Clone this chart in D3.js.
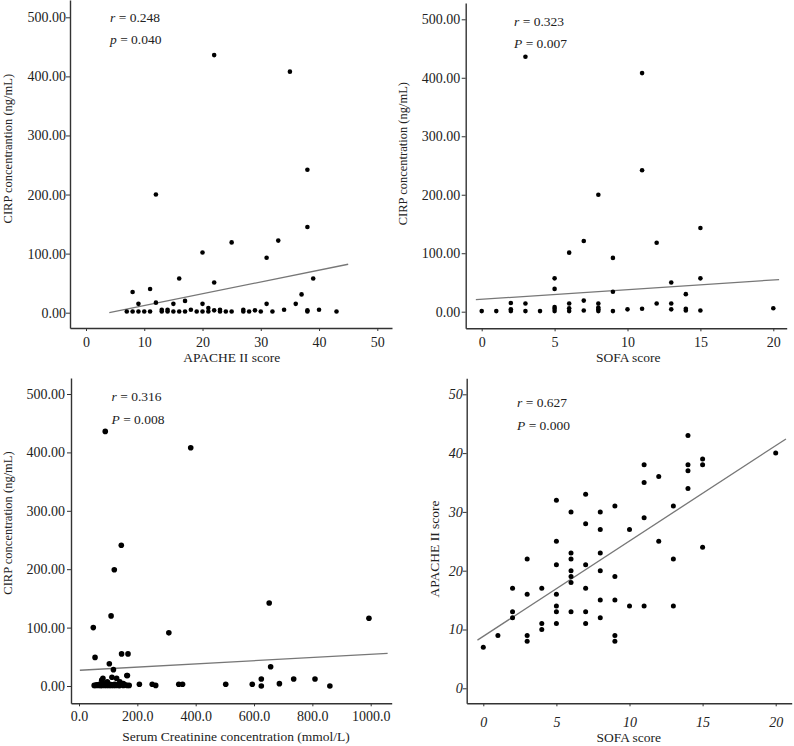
<!DOCTYPE html>
<html><head><meta charset="utf-8">
<script src="https://cdn.jsdelivr.net/npm/d3@7"></script>
<style>body{margin:0;background:#fff}svg{display:block}</style>
</head><body>
<svg id="c" width="794" height="746"></svg>
<script>
// ---------------- data ----------------
// Panel A: APACHE II score vs CIRP
const apacheScoreA = [22,35,12,38,38,33,25,20,31,39,16,22,8,11,37,9,12,15,17,20,31,36,
  7,8,9,10,11,13,13,14,14,15,16,17,18,19,20,21,21,22,23,23,24,25,27,27,28,29,30,32,34,38,38,40,43];
const cirpA = [436,408,200,242,145,122,119,102,93,58,58,51,35,40,31,15,17,15,20,15,15,15,
  2,2,2,2,2,2,5,2,5,2,2,2,5,2,2,2,8,4,2,5,2,2,2,5,2,4,2,2,5,2,4,5,2];
const fitAX = [4, 45], fitAY = [0, 82];

// Panel B: SOFA score vs CIRP
const sofaScoreB = [3,11,11,8,15,7,12,6,9,5,15,13,5,9,14,7,2,3,6,8,12,13,5,8,
  0,1,2,2,3,4,5,5,6,6,7,8,8,9,10,11,13,14,14,15,20];
const cirpB = [436,408,242,200,143,121,118,101,92,57,57,50,39,34,30,19,15,14,14,14,14,14,8,7,
  1,1,1,4,1,1,1,5,1,6,2,1,4,1,4,5,4,2,5,2,6];
const fitBX = [-0.4, 20.4], fitBY = [20.5, 55];

// Panel C: Serum creatinine vs CIRP
const creatinineC = [90,383,145,121,110,49,308,652,994,55,146,168,104,118,166,657,625,736,809,687,594,503,625,860,342,355,251,263,207,
  82,113,129,164,
  52,57,61,66,70,74,78,78,83,87,91,95,97,99,103,106,110,114,118,122,126,131,136,140,140,146,152,152,158,165,172];
const cirpC = [436,408,241,199,120,100,91,142,116,49,55,55,38,28,18,33,12,12,12,4,3,3,0,0,3,3,3,1,3,
  13,15,13,18,
  1,1,2,1,3,1,1,10,2,1,4,1,7,2,1,3,1,2,1,3,1,2,1,1,7,3,1,4,2,1,1];
const fitCX = [3, 1058], fitCY = [27, 56];

// Panel D: SOFA score vs APACHE II score
const sofaScoreD = [0,1,2,2,2,3,3,3,3,4,4,4,5,5,5,5,5,5,5,6,6,6,6,6,6,6,7,7,7,7,7,7,8,8,8,8,8,8,9,9,9,9,9,10,10,11,11,11,11,12,12,13,13,13,14,14,14,14,15,15,15,20];
const apacheScoreD = [7,9,12,13,17,8,9,16,22,10,11,17,11,13,14,16,21,25,32,13,18,19,20,22,23,30,11,13,17,21,28,33,12,15,20,23,27,30,8,9,15,19,31,14,27,14,29,35,38,25,36,14,22,31,34,37,38,43,24,38,39,40];
const fitDX = [-0.4, 20.7], fitDY = [8.2, 42.4];

// tick labels
const apacheTicks = [0,10,20,30,40,50];
const sofaTicks = [0,5,10,15,20];
const creatinineTicks = [0,200,400,600,800,1000];
const cirpTicks = [0,100,200,300,400,500];
const apacheYTicks = [0,10,20,30,40,50];

const statsA = ["r","0.248","p","0.040"];
const statsB = ["r","0.323","P","0.007"];
const statsC = ["r","0.316","P","0.008"];
const statsD = ["r","0.627","P","0.000"];

// ---------------- drawing ----------------
const FONT = "'Liberation Serif','Times New Roman',serif";
const INK = "#222";
const svg = d3.select("#c");

function panel(o){
  const g = svg.append("g");
  const x0 = d3.scaleLinear().domain(o.xA).range(o.xP);
  const y0 = d3.scaleLinear().domain(o.yA).range(o.yP);
  const x = d3.scaleLinear().domain([x0.invert(o.box.l), x0.invert(o.box.r)]).range([o.box.l, o.box.r]);
  const y = d3.scaleLinear().domain([y0.invert(o.box.b), y0.invert(o.box.t)]).range([o.box.b, o.box.t]);

  const fs = o.italic ? "italic" : "normal";
  const ya = g.append("g").attr("transform",`translate(${o.box.l},0)`)
    .call(d3.axisLeft(y).tickValues(o.yTicks).tickFormat(o.yFmt).tickSize(4).tickSizeOuter(0).tickPadding(o.yPad));
  const xa = g.append("g").attr("transform",`translate(0,${o.box.b})`)
    .call(d3.axisBottom(x).tickValues(o.xTicks).tickFormat(o.xFmt).tickSize(3).tickSizeOuter(0).tickPadding(o.xPad));
  [ya,xa].forEach(a=>{
    a.select(".domain").attr("stroke","#333").attr("stroke-width",1.4);
    a.selectAll(".tick line").attr("stroke","#333").attr("stroke-width",1);
    a.selectAll(".tick text").attr("font-family",FONT).attr("font-size",14).attr("fill",INK).attr("font-style",fs);
  });

  g.append("line")
    .attr("x1",x(o.fx[0])).attr("y1",y(o.fy[0]))
    .attr("x2",x(o.fx[1])).attr("y2",y(o.fy[1]))
    .attr("stroke","#777").attr("stroke-width",1.3);

  g.append("g").selectAll("circle").data(o.xs.map((v,i)=>[v,o.ys[i]])).join("circle")
    .attr("cx",d=>x(d[0])).attr("cy",d=>y(d[1])).attr("r",o.r).attr("fill","#000");

  g.append("text").attr("x",o.xtX).attr("y",o.xtY).attr("text-anchor","middle")
    .attr("font-family",FONT).attr("font-size",13.5).attr("fill",INK).text(o.xTitle);
  g.append("text").attr("transform",`translate(${o.ytX},${o.ytY}) rotate(-90)`).attr("text-anchor","middle")
    .attr("font-family",FONT).attr("font-size",o.ytSize).attr("fill",INK).text(o.yTitle);

  const s = o.stats;
  [[s[0],s[1],o.sY1],[s[2],s[3],o.sY2]].forEach(([lab,val,yy])=>{
    const t = g.append("text").attr("x",o.sX).attr("y",yy).attr("font-family",FONT)
      .attr("font-size",13.5).attr("fill",INK);
    t.append("tspan").attr("font-style","italic").text(lab);
    t.append("tspan").text(" = " + val);
  });
}

const f2 = d3.format(".2f"), f1 = d3.format(".1f"), fi = d3.format("d");

panel({xA:[0,50], xP:[86,377.3], yA:[0,500], yP:[312.7,17.3], box:{l:70,r:392,t:0,b:328},
  xTicks:apacheTicks, xFmt:fi, yTicks:cirpTicks, yFmt:f2, yPad:0, xPad:6, italic:false,
  xs:apacheScoreA, ys:cirpA, fx:fitAX, fy:fitAY, r:2.3,
  xTitle:"APACHE II score", xtX:231.7, xtY:362,
  yTitle:"CIRP concentrantion (ng/mL)", ytX:12, ytY:148.7, ytSize:12.5,
  stats:statsA, sX:110, sY1:22, sY2:44});

panel({xA:[0,20], xP:[481.7,773.3], yA:[0,500], yP:[311.7,19.3], box:{l:465.7,r:786.7,t:3,b:328.3},
  xTicks:sofaTicks, xFmt:fi, yTicks:cirpTicks, yFmt:f2, yPad:1.5, xPad:6, italic:false,
  xs:sofaScoreB, ys:cirpB, fx:fitBX, fy:fitBY, r:2.3,
  xTitle:"SOFA score", xtX:628.3, xtY:362,
  yTitle:"CIRP concentration (ng/mL)", ytX:407, ytY:153.7, ytSize:12.5,
  stats:statsB, sX:514, sY1:25.5, sY2:48});

panel({xA:[0,1000], xP:[79,370.7], yA:[0,500], yP:[686,394], box:{l:71,r:391.7,t:378,b:703.3},
  xTicks:creatinineTicks, xFmt:f1, yTicks:cirpTicks, yFmt:f2, yPad:2, xPad:5, italic:false,
  xs:creatinineC, ys:cirpC, fx:fitCX, fy:fitCY, r:2.8,
  xTitle:"Serum Creatinine concentration (mmol/L)", xtX:236, xtY:741,
  yTitle:"CIRP concentration (ng/mL)", ytX:12, ytY:523, ytSize:12.5,
  stats:statsC, sX:111.5, sY1:400.5, sY2:424});

panel({xA:[0,20], xP:[483.3,775.7], yA:[0,50], yP:[688.3,394.3], box:{l:466.7,r:791.7,t:378.3,b:703.3},
  xTicks:sofaTicks, xFmt:fi, yTicks:apacheYTicks, yFmt:fi, yPad:0, xPad:11, italic:true,
  xs:sofaScoreD, ys:apacheScoreD, fx:fitDX, fy:fitDY, r:2.5,
  xTitle:"SOFA score", xtX:628.7, xtY:742,
  yTitle:"APACHE II score", ytX:439, ytY:549, ytSize:13.5,
  stats:statsD, sX:517, sY1:407, sY2:430});
</script>
</body></html>
